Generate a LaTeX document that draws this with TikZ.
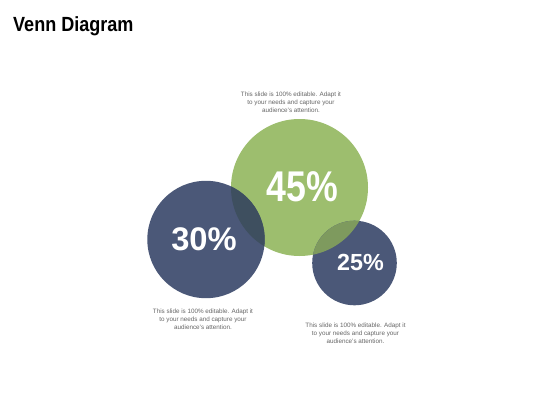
\documentclass[tikz,border=0pt]{standalone}
\usepackage{fontspec}
\setmainfont{Liberation Sans}
\definecolor{navy}{HTML}{4B5878}
\definecolor{leaf}{HTML}{9DBE6E}
\definecolor{ovleft}{HTML}{3E4F5F}
\definecolor{ovright}{HTML}{7E9A5E}
\definecolor{note}{HTML}{666666}
\tikzset{
  pct/.style={text=white, font=\bfseries, inner sep=0pt},
  notetext/.style={text=note, font=\fontsize{6.3}{8.2}\selectfont, align=center, inner sep=0pt},
}
\begin{document}
\begin{tikzpicture}[x=1pt,y=-1pt]
\useasboundingbox[fill=white] (0,0) rectangle (560,420);
\node[anchor=base west, inner sep=0pt, font=\fontsize{20.5}{22}\selectfont\bfseries] (title) at (13,31.7) {\scalebox{0.88}[1]{Venn Diagram}};
% circles
\fill[leaf] (299.5,187.5) circle (68.5);
\fill[navy] (206,239.5) circle (58.7);
\fill[navy] (354.5,263) circle (42.3);
\begin{scope}
  \clip (299.5,187.5) circle (68.5);
  \fill[ovleft] (206,239.5) circle (58.7);
  \fill[ovright] (354.5,263) circle (42.3);
\end{scope}
\node[pct, font=\fontsize{43}{43}\selectfont\bfseries] (p45) at (302.5,186.5) {\scalebox{0.83}[1]{45\%}};
\node[pct, font=\fontsize{32.7}{33}\selectfont\bfseries] (p30) at (204,239) {30\%};
\node[pct, font=\fontsize{23.3}{24}\selectfont\bfseries] (p25) at (360.5,262.4) {25\%};
\node[notetext] (t1) at (291,102) {This slide is 100\% editable. Adapt it\\to your needs and capture your\\audience's attention.};
\node[notetext] (t2) at (203,319) {This slide is 100\% editable. Adapt it\\to your needs and capture your\\audience's attention.};
\node[notetext] (t3) at (355.5,333.5) {This slide is 100\% editable. Adapt it\\to your needs and capture your\\audience's attention.};
\end{tikzpicture}
\end{document}
